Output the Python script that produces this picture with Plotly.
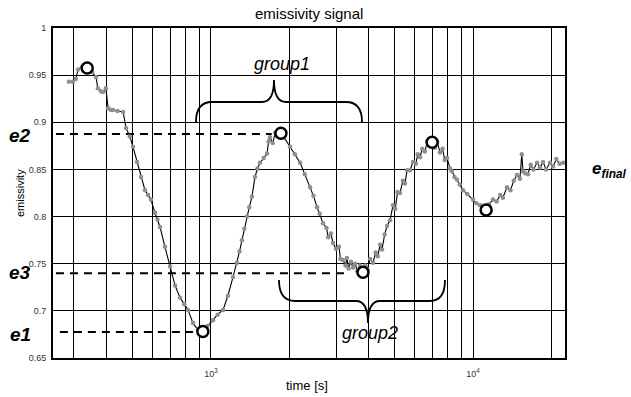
import math
import plotly.graph_objects as go

# ---------------- data ----------------
seg1_t = [287, 297, 305, 311, 322, 337, 352, 364, 370, 380, 387, 397, 405, 415, 423, 440, 462, 474, 490, 504,
          522, 541, 560, 575, 590, 611, 625, 639, 667, 698, 729, 762, 790, 817, 854, 892, 931]
seg1_e = [0.943, 0.943, 0.946, 0.956, 0.959, 0.958, 0.953, 0.948, 0.936, 0.933, 0.932, 0.936, 0.915, 0.913, 0.913,
          0.912, 0.911, 0.894, 0.885, 0.874, 0.858, 0.842, 0.828, 0.823, 0.818, 0.804, 0.797, 0.789, 0.768, 0.747,
          0.727, 0.714, 0.707, 0.701, 0.687, 0.680, 0.678]
seg2_t = [970, 1018, 1060, 1112, 1160, 1214, 1257, 1285, 1313, 1340, 1372, 1400, 1433, 1472, 1505, 1538, 1590,
          1636, 1660, 1679, 1720, 1760, 1786, 1820, 1849]
seg2_e = [0.684, 0.690, 0.696, 0.701, 0.716, 0.736, 0.751, 0.763, 0.775, 0.787, 0.800, 0.810, 0.821, 0.842, 0.851,
          0.857, 0.862, 0.867, 0.880, 0.884, 0.878, 0.889, 0.886, 0.892, 0.888]
seg3_t = [1900, 2003, 2090, 2188, 2280, 2388, 2460, 2540, 2600, 2675, 2760, 2800, 2870, 2922, 3000, 3080, 3120,
          3191, 3260, 3300, 3350, 3420, 3485, 3550, 3620, 3700, 3760, 3802]
seg3_e = [0.884, 0.874, 0.866, 0.857, 0.845, 0.831, 0.822, 0.810, 0.803, 0.793, 0.788, 0.778, 0.782, 0.772, 0.766,
          0.768, 0.755, 0.754, 0.748, 0.756, 0.745, 0.752, 0.746, 0.750, 0.742, 0.748, 0.743, 0.741]
seg4_t = [3880, 3950, 4050, 4153, 4250, 4330, 4420, 4495, 4600, 4700, 4822, 4950, 5050, 5150, 5264, 5400, 5500,
          5600, 5749, 5900, 6050, 6150, 6278, 6400, 6550, 6700, 6850, 6982]
seg4_e = [0.748, 0.744, 0.755, 0.751, 0.762, 0.758, 0.770, 0.765, 0.781, 0.790, 0.796, 0.812, 0.808, 0.826, 0.825,
          0.838, 0.835, 0.849, 0.849, 0.858, 0.856, 0.866, 0.863, 0.872, 0.869, 0.880, 0.876, 0.879]
seg5_t = [7150, 7300, 7485, 7650, 7800, 7962, 8171, 8300, 8500, 8690, 8900, 9160, 9500, 10000, 10300, 10640,
          10900, 11220]
seg5_e = [0.873, 0.879, 0.868, 0.872, 0.860, 0.862, 0.851, 0.848, 0.842, 0.839, 0.834, 0.828, 0.824, 0.818, 0.814,
          0.812, 0.810, 0.808]
seg6_t = [11500, 11920, 12300, 12700, 13000, 13480, 13900, 14300, 14720, 15100, 15350, 15520, 15800, 16200, 16600,
          17000, 17550, 18000, 18500, 19000, 19680, 20200, 20800, 21400, 22080]
seg6_e = [0.813, 0.818, 0.816, 0.823, 0.820, 0.831, 0.828, 0.838, 0.844, 0.840, 0.866, 0.848, 0.846, 0.845, 0.855,
          0.850, 0.857, 0.852, 0.858, 0.850, 0.857, 0.853, 0.861, 0.856, 0.857]

key_t = [337, 931, 1849, 3802, 6982, 11220]
key_e = [0.9576, 0.678, 0.8883, 0.741, 0.8788, 0.807]

level_names = ["e1", "e2", "e3"]
level_e = [0.6776, 0.8876, 0.740]
level_t0 = [265, 256, 256]
level_t1 = [854, 1705, 3296]

grid_t = [300, 400, 500, 600, 700, 800, 900, 1000, 2000, 3000, 4000, 5000, 6000, 7000, 8000, 9000, 10000, 20000]
x_labels = {1000: "10<sup>3</sup>", 10000: "10<sup>4</sup>"}
y_ticks = [0.65, 0.7, 0.75, 0.8, 0.85, 0.9, 0.95, 1.0]
y_labels = ["0.65", "0.7", "0.75", "0.8", "0.85", "0.9", "0.95", "1"]

time_s = seg1_t + seg2_t + seg3_t + seg4_t + seg5_t + seg6_t
emissivity = seg1_e + seg2_e + seg3_e + seg4_e + seg5_e + seg6_e

# ---------------- layout geometry ----------------
W, H = 631, 397
L, R, T, B = 53, 565, 28, 358
FONT = "Arial, Liberation Sans, sans-serif"


def px(xp):
    return (xp - L) / (R - L)


def py(yp):
    return (B - yp) / (B - T)


def P(xp, yp):
    return f"{px(xp):.4f},{py(yp):.4f}"


fig = go.Figure()

for name, e, t0, t1 in zip(level_names, level_e, level_t0, level_t1):
    fig.add_trace(go.Scatter(x=[t0, t1], y=[e, e], mode="lines",
                             line=dict(color="black", width=2, dash="8px,6px"),
                             hoverinfo="skip", showlegend=False))

fig.add_trace(go.Scatter(x=time_s, y=emissivity, mode="lines+markers",
                         line=dict(color="black", width=1.1),
                         marker=dict(color="#8f8f8f", size=4.5),
                         showlegend=False))

fig.add_trace(go.Scatter(x=key_t, y=key_e, mode="markers",
                         marker=dict(symbol="circle", color="white", size=11,
                                     line=dict(color="black", width=2.5)),
                         showlegend=False))

# braces
brace1 = ("M " + P(196, 122) + " Q " + P(196, 102) + " " + P(212, 102) + " L " + P(262, 102) +
          " Q " + P(274, 102) + " " + P(274, 80) + " Q " + P(274, 102) + " " + P(286, 102) +
          " L " + P(346, 102) + " Q " + P(362, 102) + " " + P(362, 122))
brace2 = ("M " + P(279, 280) + " Q " + P(279, 301) + " " + P(295, 301) + " L " + P(356, 301) +
          " Q " + P(368, 301) + " " + P(368, 323) + " Q " + P(368, 301) + " " + P(380, 301) +
          " L " + P(430, 301) + " Q " + P(445, 301) + " " + P(445, 280))
shapes = [dict(type="path", xref="paper", yref="paper", path=p,
               line=dict(color="black", width=1.8)) for p in (brace1, brace2)]

annotations = [
    dict(text="emissivity signal", x=0.5, y=py(14), xref="paper", yref="paper", showarrow=False,
         font=dict(size=15, color="black", family=FONT), xanchor="center", yanchor="middle"),
    dict(text="emissivity", x=px(20), y=py(193), xref="paper", yref="paper", showarrow=False, textangle=-90,
         font=dict(size=11, color="black", family=FONT), xanchor="center", yanchor="middle"),
    dict(text="time [s]", x=px(307), y=py(385), xref="paper", yref="paper", showarrow=False,
         font=dict(size=13, color="black", family=FONT), xanchor="center", yanchor="middle"),
    dict(text="<i>group1</i>", x=px(282), y=py(64), xref="paper", yref="paper", showarrow=False,
         font=dict(size=18, color="black", family=FONT), xanchor="center", yanchor="middle"),
    dict(text="<i>group2</i>", x=px(370), y=py(333), xref="paper", yref="paper", showarrow=False,
         font=dict(size=18, color="black", family=FONT), xanchor="center", yanchor="middle"),
    dict(text="<b><i>e<sub>final</sub></i></b>", x=px(590), y=py(170), xref="paper", yref="paper",
         showarrow=False, font=dict(size=17, color="black", family=FONT), xanchor="left", yanchor="middle"),
]
label_y = {"e1": 334, "e2": 135, "e3": 272}
for name in level_names:
    annotations.append(dict(text=f"<b><i>{name}</i></b>", x=px(20), y=py(label_y[name]), xref="paper",
                            yref="paper", showarrow=False, font=dict(size=19, color="black", family=FONT),
                            xanchor="center", yanchor="middle"))

fig.update_layout(
    width=W, height=H,
    margin=dict(l=L, r=W - R, t=T, b=H - B, pad=0),
    paper_bgcolor="white", plot_bgcolor="white",
    font=dict(family=FONT, color="black"),
    shapes=shapes, annotations=annotations,
    showlegend=False,
)
fig.update_xaxes(type="log", range=[math.log10(249.5), math.log10(22440)],
                 tickmode="array", tickvals=grid_t, ticktext=[x_labels.get(t, "") for t in grid_t],
                 showgrid=True, gridcolor="black", gridwidth=1,
                 showline=True, linecolor="black", linewidth=2, mirror=True,
                 ticks="", ticklabelstandoff=6, tickfont=dict(size=9, color="#333333"),
                 zeroline=False)
fig.update_yaxes(range=[0.65, 1.0], tickmode="array", tickvals=y_ticks, ticktext=y_labels,
                 showgrid=True, gridcolor="black", gridwidth=1,
                 showline=True, linecolor="black", linewidth=2, mirror=True,
                 ticks="", ticklabelstandoff=3, tickfont=dict(size=9, color="#333333"),
                 zeroline=False)

fig.write_html("out.html")
